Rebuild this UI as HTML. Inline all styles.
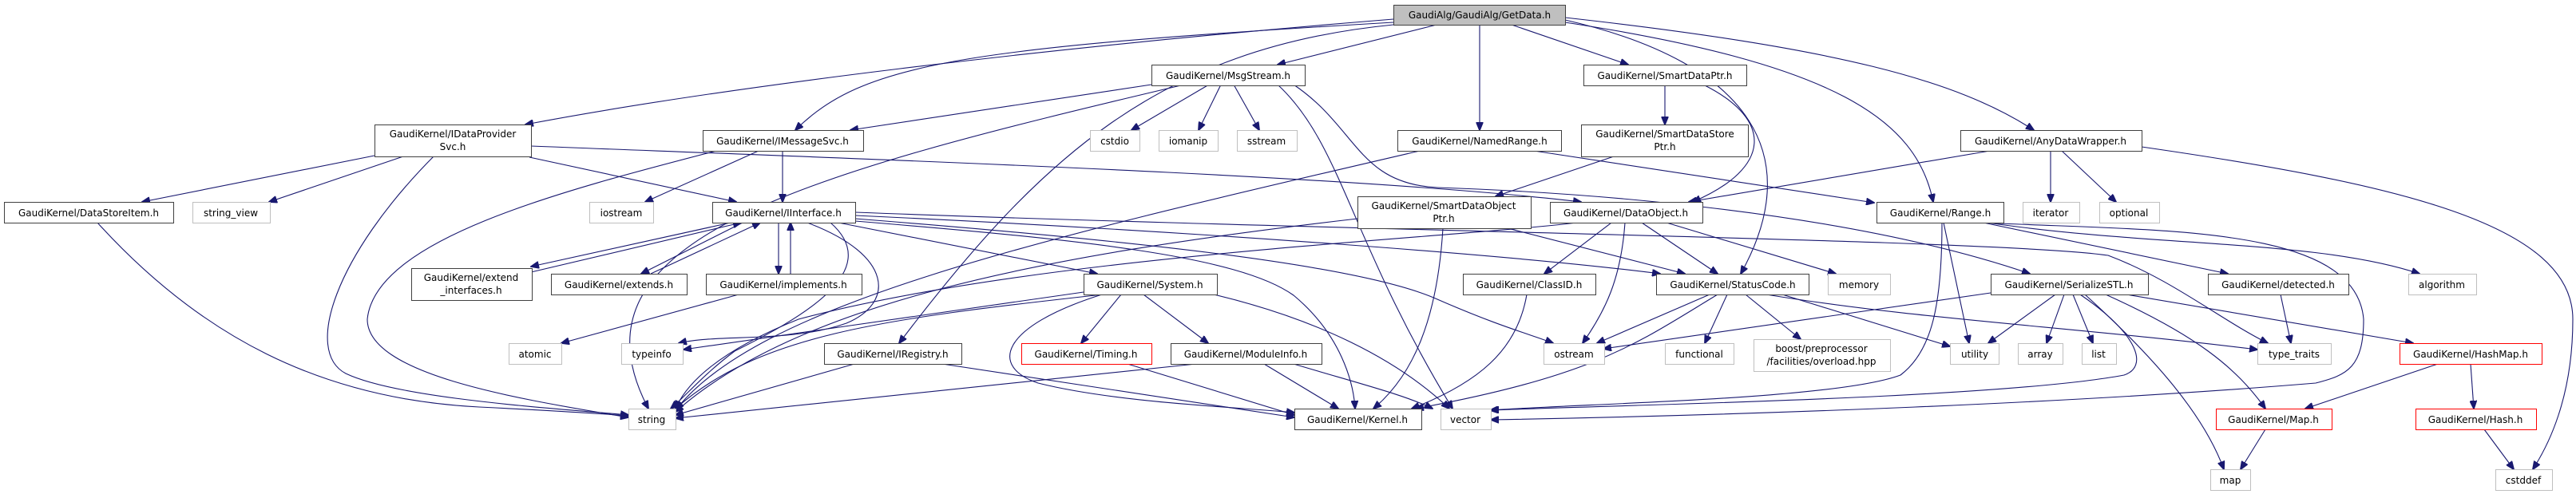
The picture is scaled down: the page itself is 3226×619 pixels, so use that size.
<!DOCTYPE html>
<html><head><meta charset="utf-8"><style>
html,body{margin:0;padding:0;background:#fff;}
svg{display:block;}
text{font-family:"DejaVu Sans","Liberation Sans",sans-serif;font-size:12px;fill:#000;text-anchor:middle;}
.e path{fill:none;stroke:#191970;stroke-width:1.1;}
.n{fill:#fff;stroke:#404040;stroke-width:1;}
.g{fill:#fff;stroke:#bfbfbf;stroke-width:1;}
.r{fill:#fff;stroke:#ff0000;stroke-width:1;}
</style></head><body>
<svg width="3226" height="619" viewBox="0 0 3226 619" xmlns="http://www.w3.org/2000/svg">
<defs><marker id="a" markerUnits="userSpaceOnUse" markerWidth="11" markerHeight="9" refX="10" refY="4.5" orient="auto" viewBox="0 0 11 9"><path d="M0,0 L11,4.5 L0,9 z" fill="#191970" stroke="#191970"/></marker></defs>
<g class="e" marker-end="url(#a)">
<path d="M1745,24 C1300,60 900,110 658,156" marker-end="url(#a)"/>
<path d="M1745,28 C1200,60 1080,80 996,163" marker-end="url(#a)"/>
<path d="M1799,31 L1600,81" marker-end="url(#a)"/>
<path d="M1853,31 L1853,163" marker-end="url(#a)"/>
<path d="M1893,31 L2039,81" marker-end="url(#a)"/>
<path d="M1745,31 C1450,60 1300,200 1126,430" marker-end="url(#a)"/>
<path d="M1960,25 C2200,80 2260,200 2180,343" marker-end="url(#a)"/>
<path d="M1960,28 C2300,80 2400,150 2421,253" marker-end="url(#a)"/>
<path d="M1960,22 C2300,60 2450,100 2547,163" marker-end="url(#a)"/>
<path d="M1442,106 L1065,163" marker-end="url(#a)"/>
<path d="M1483,106 C1000,220 700,300 812,512" marker-end="url(#a)"/>
<path d="M1514,106 L1417,163" marker-end="url(#a)"/>
<path d="M1529,106 L1501,163" marker-end="url(#a)"/>
<path d="M1545,106 L1577,163" marker-end="url(#a)"/>
<path d="M1600,106 C1680,180 1690,300 1819,512" marker-end="url(#a)"/>
<path d="M1620,106 C1700,160 1700,230 1800,235 C1950,240 2300,260 2542,343" marker-end="url(#a)"/>
<path d="M469,195 L178,253" marker-end="url(#a)"/>
<path d="M505,196 L337,253" marker-end="url(#a)"/>
<path d="M543,196 C420,320 380,440 433,468 C500,500 700,512 787,520" marker-end="url(#a)"/>
<path d="M663,197 L922,253" marker-end="url(#a)"/>
<path d="M665,183 C1100,200 1700,220 1980,253" marker-end="url(#a)"/>
<path d="M980,189 L980,253" marker-end="url(#a)"/>
<path d="M950,189 L808,253" marker-end="url(#a)"/>
<path d="M897,189 C700,240 470,300 460,400 C460,470 650,500 787,523" marker-end="url(#a)"/>
<path d="M915,279 L665,334" marker-end="url(#a)"/>
<path d="M665,341 L928,279" marker-end="url(#a)"/>
<path d="M930,279 L803,343" marker-end="url(#a)"/>
<path d="M815,343 L952,279" marker-end="url(#a)"/>
<path d="M975,279 L975,343" marker-end="url(#a)"/>
<path d="M990,343 L990,279" marker-end="url(#a)"/>
<path d="M1050,279 L1374,343" marker-end="url(#a)"/>
<path d="M1071,270 C1500,290 1900,320 2079,343" marker-end="url(#a)"/>
<path d="M1071,266 C1700,290 2500,300 2640,320 C2720,350 2780,400 2840,430" marker-end="url(#a)"/>
<path d="M1071,274 C1400,300 1700,330 1800,375 C1880,410 1920,420 1945,430" marker-end="url(#a)"/>
<path d="M1071,277 C1350,300 1550,320 1620,370 C1680,420 1695,480 1697,512" marker-end="url(#a)"/>
<path d="M1011,279 C1120,320 1120,380 1060,405 C990,430 900,418 850,430" marker-end="url(#a)"/>
<path d="M1040,279 C1110,340 1000,400 920,440 C880,470 860,495 840,512" marker-end="url(#a)"/>
<path d="M925,369 L703,430" marker-end="url(#a)"/>
<path d="M1404,369 L1354,430" marker-end="url(#a)"/>
<path d="M1432,369 L1513,430" marker-end="url(#a)"/>
<path d="M1380,369 C1250,410 1240,460 1300,480 C1400,505 1550,510 1621,517" marker-end="url(#a)"/>
<path d="M1520,369 C1650,400 1750,450 1815,512" marker-end="url(#a)"/>
<path d="M1381,369 C1100,400 950,420 846,512" marker-end="url(#a)"/>
<path d="M1357,366 L856,438" marker-end="url(#a)"/>
<path d="M1412,456 L1621,520" marker-end="url(#a)"/>
<path d="M1583,456 L1676,512" marker-end="url(#a)"/>
<path d="M1498,456 L846,524" marker-end="url(#a)"/>
<path d="M1620,456 C1700,480 1760,495 1794,512" marker-end="url(#a)"/>
<path d="M1180,456 L1621,523" marker-end="url(#a)"/>
<path d="M1070,456 L846,520" marker-end="url(#a)"/>
<path d="M2085,106 L2085,156" marker-end="url(#a)"/>
<path d="M2135,107 C2220,150 2220,210 2120,253" marker-end="url(#a)"/>
<path d="M2021,196 L1873,246" marker-end="url(#a)"/>
<path d="M1921,189 L2347,254" marker-end="url(#a)"/>
<path d="M1778,189 C1300,300 950,380 846,514" marker-end="url(#a)"/>
<path d="M1807,286 C1800,400 1770,470 1720,512" marker-end="url(#a)"/>
<path d="M1888,286 L2110,343" marker-end="url(#a)"/>
<path d="M1700,274 C1300,320 1000,380 846,516" marker-end="url(#a)"/>
<path d="M2018,279 L1934,343" marker-end="url(#a)"/>
<path d="M2035,279 C2030,350 2010,390 1982,430" marker-end="url(#a)"/>
<path d="M2056,279 L2151,343" marker-end="url(#a)"/>
<path d="M2087,279 L2299,343" marker-end="url(#a)"/>
<path d="M1975,279 C1800,300 1300,320 1000,400 C900,440 860,480 846,512" marker-end="url(#a)"/>
<path d="M1912,369 C1900,440 1850,480 1768,512" marker-end="url(#a)"/>
<path d="M2141,369 L2000,430" marker-end="url(#a)"/>
<path d="M2163,369 L2135,430" marker-end="url(#a)"/>
<path d="M2186,369 L2255,425" marker-end="url(#a)"/>
<path d="M2151,369 C2050,430 2000,470 1773,512" marker-end="url(#a)"/>
<path d="M2232,369 L2442,434" marker-end="url(#a)"/>
<path d="M2212,369 C2400,400 2600,410 2827,438" marker-end="url(#a)"/>
<path d="M2434,279 L2466,430" marker-end="url(#a)"/>
<path d="M2484,279 L2790,343" marker-end="url(#a)"/>
<path d="M2489,279 C2700,310 2900,300 3030,343" marker-end="url(#a)"/>
<path d="M2432,279 C2432,380 2420,440 2380,470 C2300,500 2000,505 1866,514" marker-end="url(#a)"/>
<path d="M2484,279 C2700,290 2950,280 2960,400 C2960,460 2940,470 2900,480 C2600,505 2200,520 1867,526" marker-end="url(#a)"/>
<path d="M2492,189 L2115,253" marker-end="url(#a)"/>
<path d="M2568,189 L2568,253" marker-end="url(#a)"/>
<path d="M2582,189 L2650,253" marker-end="url(#a)"/>
<path d="M2682,184 C3000,230 3222,280 3222,400 C3222,500 3190,560 3172,588" marker-end="url(#a)"/>
<path d="M2493,367 L2008,437" marker-end="url(#a)"/>
<path d="M2574,369 L2490,430" marker-end="url(#a)"/>
<path d="M2585,369 L2563,430" marker-end="url(#a)"/>
<path d="M2596,369 L2621,430" marker-end="url(#a)"/>
<path d="M2611,369 C2700,450 2760,520 2785,588" marker-end="url(#a)"/>
<path d="M2637,369 C2750,420 2800,460 2837,512" marker-end="url(#a)"/>
<path d="M2663,369 L3022,430" marker-end="url(#a)"/>
<path d="M2605,369 C2680,420 2690,460 2660,470 C2500,500 2000,508 1867,514" marker-end="url(#a)"/>
<path d="M3053,456 L2887,512" marker-end="url(#a)"/>
<path d="M3094,456 L3098,512" marker-end="url(#a)"/>
<path d="M2837,538 L2806,588" marker-end="url(#a)"/>
<path d="M3111,538 L3148,588" marker-end="url(#a)"/>
<path d="M2856,369 L2869,430" marker-end="url(#a)"/>
<path d="M122,279 C250,420 400,500 600,510 C700,515 750,518 787,521" marker-end="url(#a)"/>
</g>
<g>
<rect class="n" x="1745.5" y="6.5" width="215" height="25" style="fill:#bfbfbf"/><text x="1853" y="23">GaudiAlg/GaudiAlg/GetData.h</text>
<rect class="n" x="1442.5" y="81.5" width="192" height="26"/><text x="1538" y="99">GaudiKernel/MsgStream.h</text>
<rect class="n" x="1983.5" y="81.5" width="204" height="26"/><text x="2085" y="99">GaudiKernel/SmartDataPtr.h</text>
<rect class="n" x="469.5" y="156.5" width="196" height="40"/><text x="567" y="172">GaudiKernel/IDataProvider</text><text x="567" y="188">Svc.h</text>
<rect class="n" x="880.5" y="163.5" width="201" height="26"/><text x="980" y="181">GaudiKernel/IMessageSvc.h</text>
<rect class="g" x="1365.5" y="163.5" width="62" height="26"/><text x="1396" y="181">cstdio</text>
<rect class="g" x="1451.5" y="163.5" width="74" height="26"/><text x="1488" y="181">iomanip</text>
<rect class="g" x="1549.5" y="163.5" width="75" height="26"/><text x="1586" y="181">sstream</text>
<rect class="n" x="1750.5" y="163.5" width="205" height="26"/><text x="1853" y="181">GaudiKernel/NamedRange.h</text>
<rect class="n" x="1980.5" y="156.5" width="209" height="40"/><text x="2085" y="172">GaudiKernel/SmartDataStore</text><text x="2085" y="188">Ptr.h</text>
<rect class="n" x="2455.5" y="163.5" width="227" height="26"/><text x="2568" y="181">GaudiKernel/AnyDataWrapper.h</text>
<rect class="n" x="5.5" y="253.5" width="212" height="26"/><text x="111" y="271">GaudiKernel/DataStoreItem.h</text>
<rect class="g" x="241.5" y="253.5" width="97" height="26"/><text x="289" y="271">string_view</text>
<rect class="g" x="738.5" y="253.5" width="80" height="26"/><text x="778" y="271">iostream</text>
<rect class="n" x="892.5" y="253.5" width="179" height="26"/><text x="981" y="271">GaudiKernel/IInterface.h</text>
<rect class="n" x="1700.5" y="246.5" width="217" height="40"/><text x="1808" y="262">GaudiKernel/SmartDataObject</text><text x="1808" y="278">Ptr.h</text>
<rect class="n" x="1941.5" y="253.5" width="191" height="26"/><text x="2036" y="271">GaudiKernel/DataObject.h</text>
<rect class="n" x="2350.5" y="253.5" width="159" height="26"/><text x="2430" y="271">GaudiKernel/Range.h</text>
<rect class="g" x="2533.5" y="253.5" width="71" height="26"/><text x="2568" y="271">iterator</text>
<rect class="g" x="2629.5" y="253.5" width="75" height="26"/><text x="2666" y="271">optional</text>
<rect class="n" x="515.5" y="336.5" width="151" height="40"/><text x="590" y="352">GaudiKernel/extend</text><text x="590" y="368">_interfaces.h</text>
<rect class="n" x="690.5" y="343.5" width="170" height="26"/><text x="775" y="361">GaudiKernel/extends.h</text>
<rect class="n" x="884.5" y="343.5" width="195" height="26"/><text x="981" y="361">GaudiKernel/implements.h</text>
<rect class="n" x="1357.5" y="343.5" width="167" height="26"/><text x="1440" y="361">GaudiKernel/System.h</text>
<rect class="n" x="1832.5" y="343.5" width="166" height="26"/><text x="1915" y="361">GaudiKernel/ClassID.h</text>
<rect class="n" x="2074.5" y="343.5" width="191" height="26"/><text x="2170" y="361">GaudiKernel/StatusCode.h</text>
<rect class="g" x="2289.5" y="343.5" width="78" height="26"/><text x="2328" y="361">memory</text>
<rect class="n" x="2493.5" y="343.5" width="197" height="26"/><text x="2591" y="361">GaudiKernel/SerializeSTL.h</text>
<rect class="n" x="2765.5" y="343.5" width="176" height="26"/><text x="2853" y="361">GaudiKernel/detected.h</text>
<rect class="g" x="3016.5" y="343.5" width="85" height="26"/><text x="3058" y="361">algorithm</text>
<rect class="g" x="637.5" y="430.5" width="66" height="26"/><text x="670" y="448">atomic</text>
<rect class="g" x="778.5" y="430.5" width="77" height="26"/><text x="816" y="448">typeinfo</text>
<rect class="n" x="1032.5" y="430.5" width="172" height="26"/><text x="1118" y="448">GaudiKernel/IRegistry.h</text>
<rect class="r" x="1279.5" y="430.5" width="163" height="26"/><text x="1360" y="448">GaudiKernel/Timing.h</text>
<rect class="n" x="1466.5" y="430.5" width="189" height="26"/><text x="1560" y="448">GaudiKernel/ModuleInfo.h</text>
<rect class="g" x="1933.5" y="430.5" width="76" height="26"/><text x="1971" y="448">ostream</text>
<rect class="g" x="2085.5" y="430.5" width="86" height="26"/><text x="2128" y="448">functional</text>
<rect class="g" x="2196.5" y="425.5" width="171" height="40"/><text x="2281" y="441">boost/preprocessor</text><text x="2281" y="457">/facilities/overload.hpp</text>
<rect class="g" x="2442.5" y="430.5" width="61" height="26"/><text x="2473" y="448">utility</text>
<rect class="g" x="2527.5" y="430.5" width="56" height="26"/><text x="2555" y="448">array</text>
<rect class="g" x="2607.5" y="430.5" width="43" height="26"/><text x="2628" y="448">list</text>
<rect class="g" x="2827.5" y="430.5" width="92" height="26"/><text x="2873" y="448">type_traits</text>
<rect class="r" x="3005.5" y="430.5" width="178" height="26"/><text x="3094" y="448">GaudiKernel/HashMap.h</text>
<rect class="g" x="787.5" y="512.5" width="59" height="26"/><text x="816" y="530">string</text>
<rect class="n" x="1621.5" y="512.5" width="159" height="26"/><text x="1700" y="530">GaudiKernel/Kernel.h</text>
<rect class="g" x="1804.5" y="512.5" width="63" height="26"/><text x="1835" y="530">vector</text>
<rect class="r" x="2775.5" y="512.5" width="145" height="26"/><text x="2847" y="530">GaudiKernel/Map.h</text>
<rect class="r" x="3025.5" y="512.5" width="151" height="26"/><text x="3100" y="530">GaudiKernel/Hash.h</text>
<rect class="g" x="2768.5" y="588.5" width="50" height="26"/><text x="2793" y="606">map</text>
<rect class="g" x="3125.5" y="588.5" width="71" height="26"/><text x="3160" y="606">cstddef</text>
</g>
</svg>
</body></html>
